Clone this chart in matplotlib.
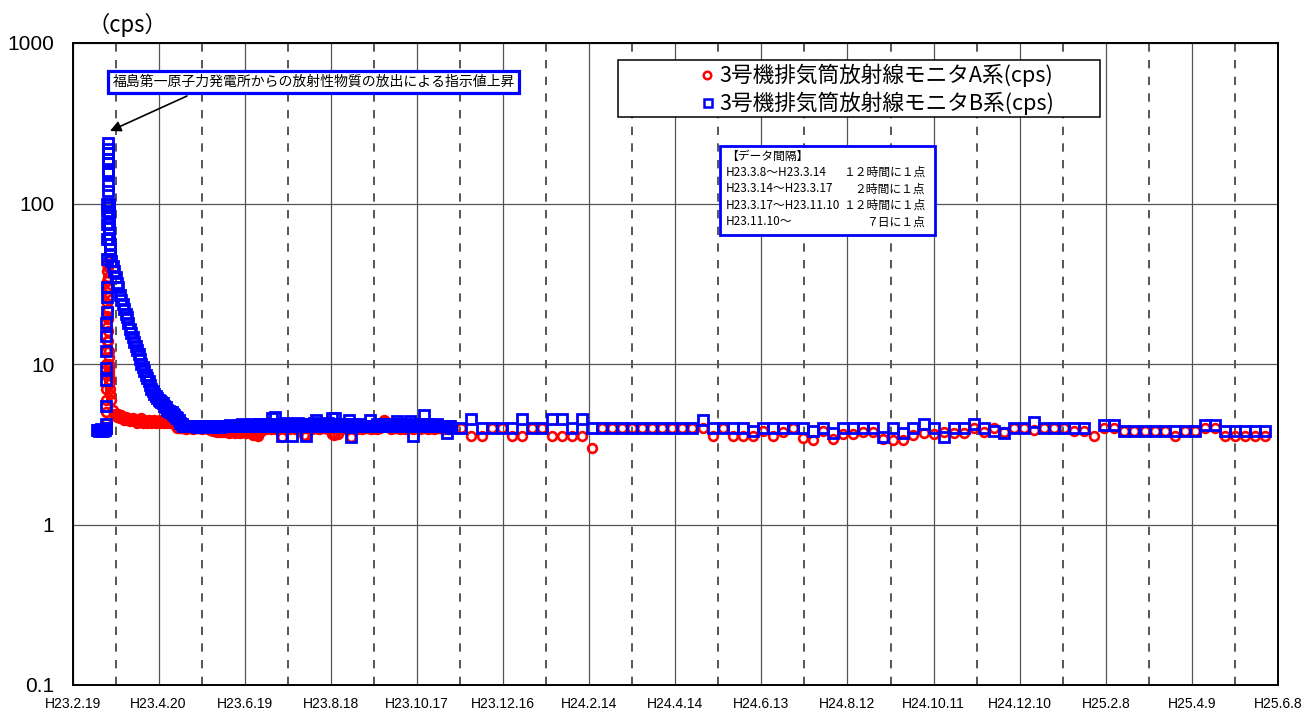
import numpy as np
import pandas as pd
import matplotlib
matplotlib.use('Agg')
import matplotlib.pyplot as plt
from matplotlib.patches import Rectangle
from matplotlib.lines import Line2D
from matplotlib.ticker import NullLocator

JP = ['Noto Sans CJK JP', 'DejaVu Sans']
LAT = ['Liberation Sans', 'DejaVu Sans']
plt.rcParams['font.family'] = JP

# ---------------- data ----------------
tick_labels = ['H23.2.19', 'H23.4.20', 'H23.6.19', 'H23.8.18', 'H23.10.17', 'H23.12.16',
               'H24.2.14', 'H24.4.14', 'H24.6.13', 'H24.8.12', 'H24.10.11', 'H24.12.10',
               'H25.2.8', 'H25.4.9', 'H25.6.8']
y_ticks = [0.1, 1, 10, 100, 1000]
y_tick_labels = ['0.1', '1', '10', '100', '1000']

series_names = ['3号機排気筒放射線モニタA系(cps)', '3号機排気筒放射線モニタB系(cps)']

# H23.3.8 - H23.3.14 : every 12 h
pre_A = [3.9, 3.9, 3.85, 3.9, 3.9, 3.9, 3.9, 3.85, 3.9, 3.9, 3.9, 3.9]
pre_B = [3.9, 3.9, 3.9, 3.85, 3.9, 3.9, 3.95, 3.9, 3.9, 3.85, 3.9, 3.9]

# H23.3.14 - H23.3.17 : every 2 h
spike_A = [4.0, 4.0, 4.3, 5.0, 6.0, 7.0, 8.5, 10, 12, 14,
           17, 20, 24, 28, 33, 38, 42, 44, 40, 35,
           30, 26, 22, 19, 16, 14, 12, 11, 10, 9.5,
           9, 8.5, 8, 7.5, 7, 6.5]
spike_B = [4.0, 4.0, 4.2, 5.5, 8.0, 9.5, 12, 15, 18, 21,
           26, 30, 45, 60, 75, 90, 100, 120, 155, 178,
           205, 237, 220, 190, 160, 130, 100, 95, 88, 82,
           76, 70, 65, 60, 56, 52]

# H23.3.17 - H23.11.9 : daily readings
dense_A = [8.0, 6.0, 5.2, 4.9, 4.8, 4.7, 4.9, 4.6, 4.8, 4.6,
           4.5, 4.7, 4.5, 4.6, 4.4, 4.5, 4.6, 4.4, 4.5, 4.3,
           4.5, 4.4, 4.6, 4.3, 4.5, 4.4, 4.3, 4.5, 4.4, 4.3,
           4.4, 4.5, 4.3, 4.4, 4.3, 4.5, 4.4, 4.3, 4.4, 4.3,
           4.4, 4.3, 4.4, 4.5, 4.3, 4.2, 4.1, 4.0, 4.0, 4.0,
           4.0, 4.0, 4.0, 3.95, 4.0, 4.0, 4.0, 4.0, 3.95, 4.0,
           4.0, 4.0, 4.0, 4.0, 3.95, 4.0, 4.0, 4.0, 4.0, 3.95,
           3.9, 3.9, 3.85, 3.8, 3.8, 3.75, 3.8, 3.75, 3.75, 3.8,
           3.75, 3.8, 3.75, 3.7, 3.75, 3.8, 3.75, 3.7, 3.75, 3.8,
           3.75, 3.7, 3.75, 3.8, 3.75, 3.7, 3.75, 3.8, 3.75, 3.7,
           3.6, 3.75, 3.6, 3.55, 3.7, 3.8, 3.9, 4.0, 4.0, 3.95,
           4.0, 4.0, 3.95, 4.0, 4.0, 4.0, 3.95, 4.0, 4.0, 4.0,
           3.5, 4.0, 3.95, 4.0, 4.0, 3.95, 4.0, 4.0, 4.0, 3.95,
           4.0, 4.0, 3.95, 4.0, 4.0, 3.6, 4.0, 3.55, 4.0, 4.0,
           4.0, 3.95, 4.0, 4.0, 4.0, 4.0, 3.95, 4.0, 4.0, 4.0,
           4.0, 4.0, 3.95, 4.0, 4.0, 3.65, 3.6, 3.65, 4.0, 3.65,
           4.0, 4.0, 3.95, 4.0, 4.0, 4.0, 3.95, 4.0, 3.5, 4.0,
           4.0, 4.0, 3.95, 4.0, 4.0, 4.0, 3.95, 4.0, 4.0, 4.0,
           4.0, 4.0, 3.95, 4.0, 4.0, 4.0, 3.95, 4.0, 4.0, 4.1,
           4.3, 4.45, 4.4, 4.3, 4.1, 4.0, 3.95, 4.0, 4.0, 4.0,
           4.0, 4.0, 3.95, 4.0, 4.0, 4.0, 3.95, 4.0, 4.0, 4.0,
           4.0, 3.95, 4.0, 4.0, 4.0, 4.0, 3.95, 4.0, 4.0, 4.0,
           4.0, 4.0, 3.95, 4.0, 4.0, 4.0, 3.95, 4.0, 4.0, 4.0,
           4.0, 4.0, 3.95, 4.0, 4.0, 4.0, 3.95, 4.0]
dense_B = [48, 44, 41, 38, 35, 32, 30, 27, 25, 23.5,
           22, 20.5, 19.5, 18, 16.5, 15.5, 14.7, 13.8, 13, 12.3,
           11.5, 10.8, 10, 9.6, 9, 8.5, 8.2, 7.8, 7.4, 7.0,
           6.8, 6.5, 6.3, 6.1, 6.0, 5.9, 5.8, 5.7, 5.5, 5.4,
           5.2, 5.1, 5.0, 5.0, 4.9, 4.8, 4.7, 4.6, 4.5,
           4.3, 4.2, 4.1, 4.1, 4.1, 4.1, 4.1, 4.1, 4.1, 4.1,
           4.1, 4.1, 4.05, 4.1, 4.1, 4.1, 4.05, 4.1, 4.1, 4.1,
           4.1, 4.1, 4.1, 4.05, 4.1, 4.1, 4.1, 4.1, 4.05, 4.1,
           4.1, 4.1, 4.1, 4.1, 4.1, 4.15, 4.1, 4.1, 4.1, 4.1,
           4.1, 4.1, 4.15, 4.2, 4.1, 4.1, 4.1, 4.1, 4.1, 4.15,
           4.2, 4.1, 4.1, 4.1, 4.1, 4.2, 4.1, 4.1, 4.15, 4.2,
           4.1, 4.1, 4.2, 4.1, 4.6, 4.1, 4.7, 4.1, 4.2, 4.1,
           4.1, 3.55, 4.1, 4.2, 4.3, 4.1, 4.2, 4.1, 3.55, 4.1,
           4.2, 4.1, 4.3, 4.1, 4.2, 4.1, 4.2, 4.1, 3.55, 4.1,
           4.2, 4.1, 4.2, 4.3, 4.1, 4.5, 4.1, 4.2, 4.1, 4.2,
           4.1, 4.2, 4.1, 4.3, 4.1, 4.2, 4.6, 4.1, 4.6, 4.1,
           4.2, 4.1, 4.2, 4.1, 4.2, 4.1, 4.2, 4.1, 4.5, 3.5,
           4.1, 4.2, 4.1, 4.1, 4.1, 4.2, 4.1, 4.1, 4.1, 4.1,
           4.1, 4.1, 4.5, 4.1, 4.1, 4.1, 4.1, 4.2, 4.1, 4.1,
           4.1, 4.1, 4.2, 4.1, 4.2, 4.1, 4.1, 4.2, 4.1, 4.1,
           4.2, 4.4, 4.1, 4.1, 4.2, 4.1, 4.1, 4.2, 4.1, 4.1,
           4.4, 4.1, 3.55, 4.1, 4.2, 4.1, 4.1, 4.1, 4.2, 4.1,
           4.8, 4.1, 4.1, 4.2, 4.1, 4.1, 4.1, 4.1, 4.1, 4.2,
           4.1, 4.1, 4.1, 4.1, 4.1, 4.1, 3.7, 4.1, 4.1]

# H23.11.10 - : every 7 days
weekly_A = [4.0, 4.0, 3.55, 3.55, 4.0, 4.0, 3.55, 3.55, 4.0, 4.0,
            3.55, 3.55, 3.55, 3.55, 3.0, 4.0, 4.0, 4.0, 4.0, 4.0,
            4.0, 4.0, 4.0, 4.0, 4.0, 4.0, 3.55, 4.0, 3.55, 3.55,
            3.55, 3.8, 3.55, 3.75, 4.0, 3.45, 3.35, 3.85, 3.4, 3.65,
            3.65, 3.75, 3.75, 3.4, 3.35, 3.35, 3.6, 3.7, 3.65, 3.75,
            3.7, 3.7, 4.0, 3.75, 4.0, 3.75, 4.0, 4.0, 3.9, 4.0,
            4.0, 4.0, 3.8, 3.8, 3.55, 4.0, 4.0, 3.85, 3.85, 3.85,
            3.85, 3.85, 3.55, 3.85, 3.85, 4.0, 4.0, 3.55, 3.55, 3.55,
            3.55, 3.55]
weekly_B = [4.0, 4.0, 4.55, 4.0, 4.0, 4.0, 4.0, 4.55, 4.0, 4.0,
            4.55, 4.55, 4.0, 4.55, 4.0, 4.0, 4.0, 4.0, 4.0, 4.0,
            4.0, 4.0, 4.0, 4.0, 4.0, 4.5, 4.0, 4.0, 4.0, 4.0,
            3.85, 4.0, 4.0, 4.0, 4.0, 4.0, 3.85, 4.0, 3.7, 4.0,
            4.0, 4.0, 4.0, 3.5, 4.0, 3.7, 4.0, 4.2, 4.0, 3.5,
            4.0, 4.0, 4.2, 4.0, 3.85, 3.7, 4.0, 4.0, 4.35, 4.0,
            4.0, 4.0, 4.0, 4.0, np.nan, 4.15, 4.15, 3.85, 3.85, 3.85,
            3.85, 3.85, 3.85, 3.85, 3.85, 4.15, 4.15, 3.85, 3.85, 3.85,
            3.85, 3.85]

# ---------------- time axis (sampling intervals from the chart note) ----------------
t_pre = pd.date_range('2011-03-08', periods=len(pre_A), freq='12h')
t_spike = pd.date_range('2011-03-14', periods=len(spike_A), freq='2h')
t_dense = pd.date_range('2011-03-17', periods=len(dense_A), freq='D')
t_week = pd.date_range('2011-11-10', periods=len(weekly_A), freq='7D')

t_all = np.concatenate([t_pre.values, t_spike.values, t_dense.values, t_week.values])
A_all = np.array(pre_A + spike_A + dense_A + weekly_A, dtype=float)
B_all = np.array(pre_B + spike_B + dense_B + weekly_B, dtype=float)

tick_dates = pd.date_range('2011-02-19', periods=len(tick_labels), freq='60D')
mid_dates = tick_dates[:-1] + pd.Timedelta(days=30)

# ---------------- figure ----------------
W, H = 1306, 713
fig = plt.figure(figsize=(W / 100, H / 100), dpi=100)
L, R, T, B = 72.5, 1278, 43, 685
ax = fig.add_axes([L / W, 1 - B / H, (R - L) / W, (B - T) / H])

ax.set_yscale('log')
ax.set_ylim(0.1, 1000)
ax.set_xlim(tick_dates[0], tick_dates[-1])

ax.set_yticks(y_ticks)
ax.set_yticklabels(y_tick_labels, family=LAT, fontsize=15)
ax.yaxis.set_minor_locator(NullLocator())
ax.set_xticks(tick_dates)
ax.set_xticklabels(tick_labels, family=LAT, fontsize=10)
ax.xaxis.set_minor_locator(NullLocator())
ax.tick_params(axis='y', length=0, pad=13)
ax.tick_params(axis='x', length=0, pad=9)

ax.grid(True, which='major', color='#555555', linewidth=0.9, linestyle='-', zorder=0)
ax.set_axisbelow(True)
for d in mid_dates:
    ax.axvline(d, color='#3a3a3a', linewidth=1.2, linestyle=(0, (5, 5)), zorder=0.5)

for s in ax.spines.values():
    s.set_color('black')
    s.set_linewidth(1.4)

ax.plot(t_all, A_all, linestyle='none', marker='o', markersize=6.3, markerfacecolor='none',
        markeredgecolor='#FF0000', markeredgewidth=1.9, zorder=3, label=series_names[0])
ax.plot(t_all, B_all, linestyle='none', marker='s', markersize=6.8, markerfacecolor='none',
        markeredgecolor='#0000FF', markeredgewidth=2.0, zorder=4, label=series_names[1])

# ---- (cps) unit label ----
fig.text(127 / W, 1 - 25 / H, '（cps）', ha='center', va='center', fontsize=16, family=JP)

# ---- annotation ----
ax.text(0.2, 1 - (82 - T) / (B - T), '福島第一原子力発電所からの放射性物質の放出による指示値上昇',
        transform=ax.transAxes, ha='center', va='center', fontsize=10, family=JP, zorder=6,
        bbox=dict(boxstyle='square,pad=0.3', facecolor='white', edgecolor='#0000FF', linewidth=2.3))
ax.annotate('', xy=((110 - L) / (R - L), 1 - (131 - T) / (B - T)),
            xytext=((187 - L) / (R - L), 1 - (96 - T) / (B - T)),
            xycoords='axes fraction', textcoords='axes fraction',
            arrowprops=dict(arrowstyle='-|>', color='black', lw=1.2, mutation_scale=16,
                            shrinkA=0, shrinkB=0), zorder=6)

# ---- legend box ----
fig.patches.append(Rectangle((618 / W, 1 - 117 / H), (1100 - 618) / W, (117 - 60) / H,
                             transform=fig.transFigure, facecolor='white', edgecolor='black',
                             linewidth=1.1, zorder=5))
fig.lines.append(Line2D([707 / W], [1 - 75 / H], transform=fig.transFigure, marker='o',
                        markersize=5.4, markerfacecolor='none', markeredgecolor='#FF0000',
                        markeredgewidth=1.8, linestyle='none', zorder=6))
fig.lines.append(Line2D([708 / W], [1 - 103 / H], transform=fig.transFigure, marker='s',
                        markersize=5.6, markerfacecolor='none', markeredgecolor='#0000FF',
                        markeredgewidth=1.8, linestyle='none', zorder=6))
fig.text(719 / W, 1 - 75 / H, series_names[0], ha='left', va='center', fontsize=15.6, family=JP, zorder=6)
fig.text(719 / W, 1 - 103 / H, series_names[1], ha='left', va='center', fontsize=15.6, family=JP, zorder=6)

# ---- data interval note ----
fig.patches.append(Rectangle((720 / W, 1 - 235 / H), (935 - 720) / W, (235 - 146) / H,
                             transform=fig.transFigure, facecolor='white', edgecolor='#0000FF',
                             linewidth=2.0, zorder=5))
note_left = ['【データ間隔】', 'H23.3.8～H23.3.14', 'H23.3.14～H23.3.17',
             'H23.3.17～H23.11.10', 'H23.11.10～']
note_right = ['', '１２時間に１点', '２時間に１点', '１２時間に１点', '７日に１点']
note_y = [156, 172.5, 189, 205.5, 222]
for lt, rt, yy in zip(note_left, note_right, note_y):
    fig.text(726 / W, 1 - yy / H, lt, ha='left', va='center', fontsize=8.5, family=JP, zorder=6)
    if rt:
        fig.text(925 / W, 1 - yy / H, rt, ha='right', va='center', fontsize=8.5, family=JP, zorder=6)

fig.savefig('out.png', dpi=100)
